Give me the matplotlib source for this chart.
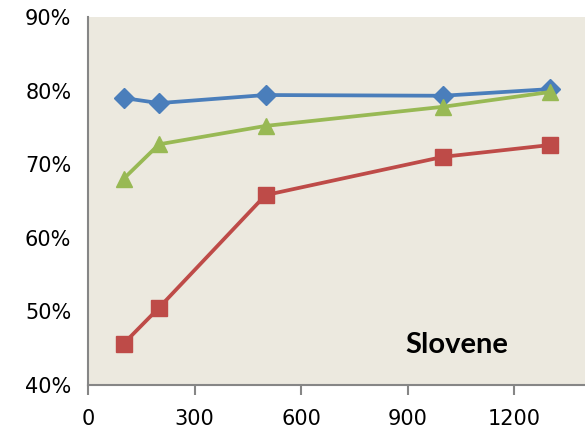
import matplotlib
matplotlib.use("Agg")
import matplotlib.pyplot as plt
from matplotlib.ticker import FuncFormatter

# training size vs accuracy
sizes = [100, 200, 500, 1000, 1300]
blue_vals = [79.0, 78.3, 79.4, 79.3, 80.2]
green_vals = [68.0, 72.7, 75.2, 77.8, 79.8]
red_vals = [45.6, 50.5, 65.8, 71.0, 72.6]
x_ticks = [0, 300, 600, 900, 1200]
y_ticks = [40, 50, 60, 70, 80, 90]
label = "Slovene"

fig = plt.figure(figsize=(5.85, 4.34), dpi=100)
ax = fig.add_axes([88 / 585, 49 / 434, 497 / 585, 368 / 434])
ax.set_facecolor("#ECE9DF")

ax.plot(sizes, blue_vals, color="#4A7EBB", lw=2.7, marker="D", ms=10)
ax.plot(sizes, green_vals, color="#98B954", lw=2.7, marker="^", ms=12)
ax.plot(sizes, red_vals, color="#BE4B48", lw=2.7, marker="s", ms=11)

ax.set_xlim(0, 1400)
ax.set_ylim(40, 90)
ax.set_xticks(x_ticks)
ax.set_yticks(y_ticks)
ax.yaxis.set_major_formatter(FuncFormatter(lambda v, p: "%d%%" % v))

for s in ["top", "right"]:
    ax.spines[s].set_visible(False)
for s in ["left", "bottom"]:
    ax.spines[s].set_color("#868686")
    ax.spines[s].set_linewidth(1.5)
ax.tick_params(axis="x", colors="#868686", width=1.5, length=7, labelsize=15, labelcolor="black", pad=10)
ax.tick_params(axis="y", length=0, labelsize=15, labelcolor="black", pad=12)

ax.text(1040, 45.5, label, fontsize=21, fontweight="bold", family="Lato", ha="center", va="center")

fig.savefig("out.png")
